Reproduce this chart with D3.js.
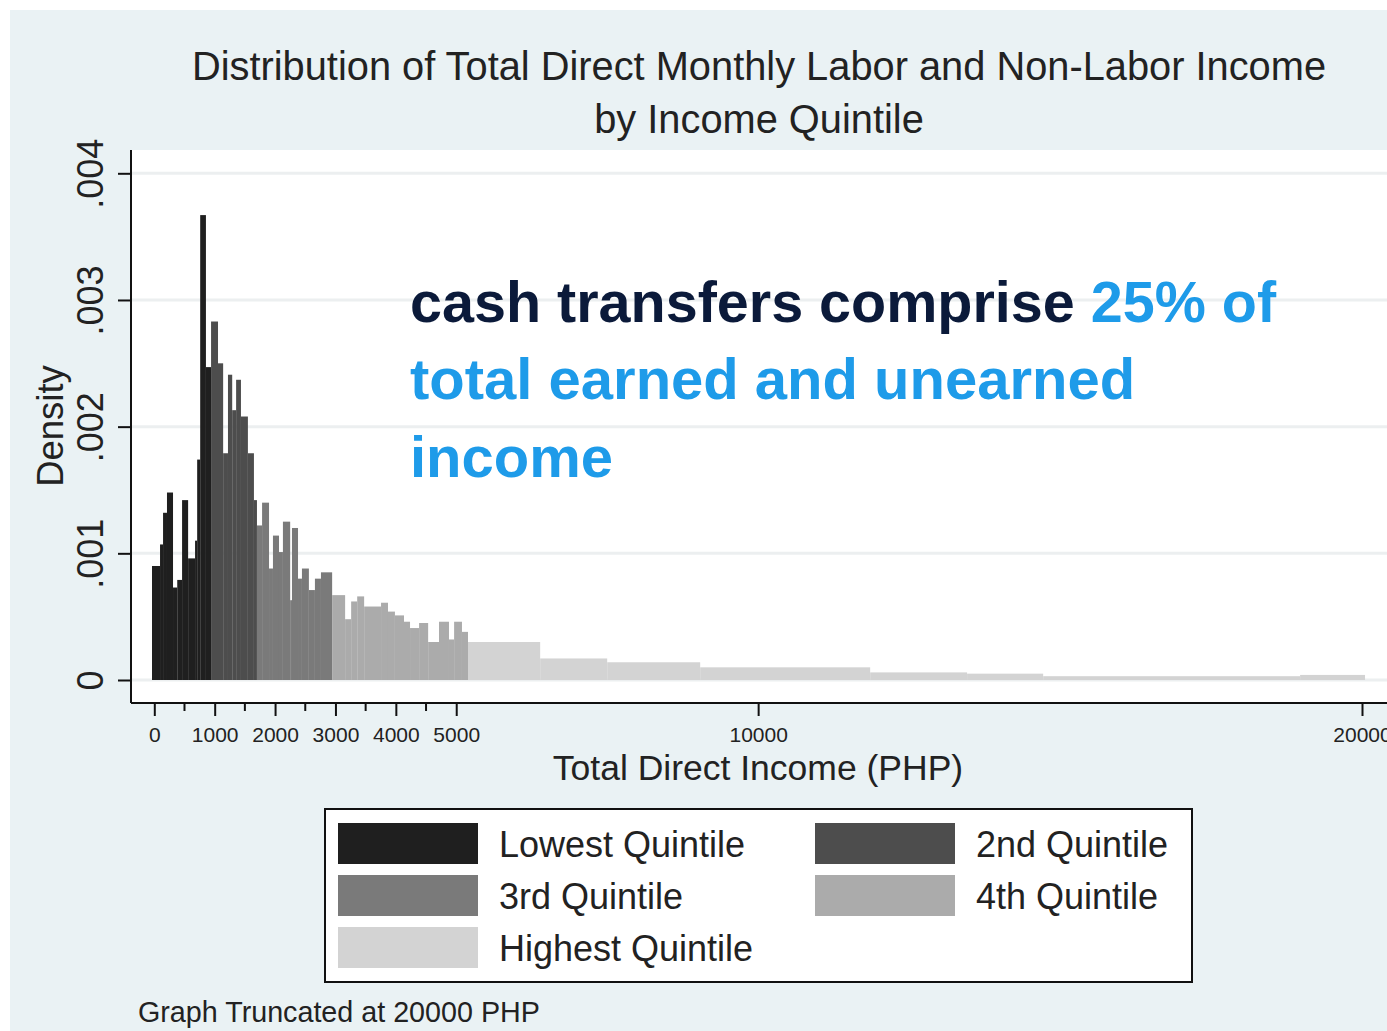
<!DOCTYPE html>
<html>
<head>
<meta charset="utf-8">
<script src="https://cdn.jsdelivr.net/npm/d3@7"></script>
<style>
  body { margin: 0; background: #fff; }
  svg text { font-family: "Liberation Sans", Arial, Helvetica, sans-serif; }
</style>
</head>
<body>
<div id="chart"></div>
<script>
// quintile names (legend order)
const quintiles = ["Lowest Quintile", "2nd Quintile", "3rd Quintile", "4th Quintile", "Highest Quintile"]

// histogram bin edges (PHP) and densities
const lowestEdges = [-38, 95, 145, 210, 310, 380, 460, 560, 675, 710, 760, 855, 940]
const lowestDensity = [.0009, .00107, .00132, .00148, .00073, .00079, .00142, .00096, .0011, .00174, .00367, .00247]

const secondEdges = [940, 1055, 1140, 1220, 1290, 1355, 1435, 1550, 1650, 1700]
const secondDensity = [.00283, .0025, .00179, .00241, .00213, .00237, .00208, .00179, .00142]

const thirdEdges = [1700, 1785, 1900, 1965, 2065, 2130, 2250, 2280, 2380, 2445, 2560, 2660, 2760, 2945]
const thirdDensity = [.00122, .0014, .00088, .00114, .00101, .00125, .00063, .0012, .0008, .00088, .00071, .0008, .00085]

const fourthEdges = [2945, 3160, 3260, 3360, 3475, 3755, 3870, 3985, 4135, 4235, 4385, 4535, 4715, 4880, 4965, 5095, 5195]
const fourthDensity = [.00067, .00048, .00062, .00066, .00058, .00061, .00054, .00051, .00046, .00041, .00045, .0003, .00046, .00032, .00046, .00038]

const highestEdges = [5195, 6390, 7500, 9040, 11855, 13460, 14720, 18975, 20050]
const highestDensity = [.0003, .00017, .00014, .0001, .00006, .00005, .00003, .00004]

const yTicks = [0, .001, .002, .003, .004]
const yTickLabels = ["0", ".001", ".002", ".003", ".004"]
const xMajorTicks = [0, 1000, 2000, 3000, 4000, 5000, 10000, 20000]
const xMinorTicks = [500, 1500, 2500, 3500, 4500]

const W = 1387, H = 1031
const fills = ["#1f1f1f", "#4d4d4d", "#7a7a7a", "#ababab", "#d3d3d3"]
const bgColor = "#eaf2f4"

const svg = d3.select("#chart").append("svg")
    .attr("width", W)
    .attr("height", H)

// graph region
svg.append("rect").attr("x", 10).attr("y", 10).attr("width", W - 10).attr("height", H - 10)
    .style("fill", bgColor)

// plot region
const plot = { left: 131, top: 150, right: W, bottom: 703 }
svg.append("rect")
    .attr("x", plot.left).attr("y", plot.top)
    .attr("width", plot.right - plot.left).attr("height", plot.bottom - plot.top)
    .style("fill", "#fff")

const x = d3.scaleLinear().domain([0, 20000]).range([154.3, 1362])
const y = d3.scaleLinear().domain([0, .004]).range([680, 173.3])

// grid lines
svg.append("g").selectAll("line").data(yTicks).join("line")
    .attr("x1", plot.left).attr("x2", plot.right)
    .attr("y1", d => y(d)).attr("y2", d => y(d))
    .style("stroke", "#eceff0").style("stroke-width", 3)

// bars
const series = [
    [lowestEdges, lowestDensity],
    [secondEdges, secondDensity],
    [thirdEdges, thirdDensity],
    [fourthEdges, fourthDensity],
    [highestEdges, highestDensity]
]
series.forEach(function(s, i) {
    const bars = s[1].map((d, j) => ({ x0: s[0][j], x1: s[0][j + 1], d: d }))
    svg.append("g").selectAll("rect").data(bars).join("rect")
        .attr("x", d => x(d.x0))
        .attr("width", d => x(d.x1) - x(d.x0))
        .attr("y", d => y(d.d))
        .attr("height", d => y(0) - y(d.d))
        .style("fill", fills[i])
})

// y axis
const yAxis = svg.append("g").attr("transform", "translate(" + plot.left + ",0)")
    .call(d3.axisLeft(y).tickValues(yTicks).tickFormat((d, i) => yTickLabels[i]).tickSize(13).tickPadding(0))
yAxis.select(".domain").attr("d", "M0," + plot.top + "V" + plot.bottom)
yAxis.selectAll("path, line").style("stroke", "#111").style("stroke-width", 2)
yAxis.selectAll(".tick text")
    .attr("x", 0).attr("dy", null)
    .attr("transform", "translate(-28,0) rotate(-90)")
    .attr("text-anchor", "middle")
    .style("font-size", "36px").style("fill", "#222")

// x axis
const xAxis = svg.append("g").attr("transform", "translate(0," + plot.bottom + ")")
    .call(d3.axisBottom(x).tickValues(xMajorTicks).tickFormat(d3.format("d")).tickSize(13).tickPadding(11))
xAxis.select(".domain").attr("d", "M" + plot.left + ",0H" + plot.right)
xAxis.selectAll("path, line").style("stroke", "#111").style("stroke-width", 2)
xAxis.selectAll(".tick text").style("font-size", "21px").style("fill", "#222")
svg.append("g").attr("transform", "translate(0," + plot.bottom + ")")
    .selectAll("line").data(xMinorTicks).join("line")
    .attr("x1", d => x(d)).attr("x2", d => x(d))
    .attr("y1", 0).attr("y2", 8)
    .style("stroke", "#111").style("stroke-width", 2)

// axis titles
svg.append("text").attr("x", 758).attr("y", 780)
    .attr("text-anchor", "middle").style("font-size", "35.5px").style("fill", "#222")
    .text("Total Direct Income (PHP)")
svg.append("text").attr("transform", "translate(63,426) rotate(-90)")
    .attr("text-anchor", "middle").style("font-size", "36.5px").style("fill", "#222")
    .text("Density")

// title
svg.append("text").attr("x", 759).attr("y", 80)
    .attr("text-anchor", "middle").style("font-size", "39.8px").style("fill", "#222")
    .text("Distribution of Total Direct Monthly Labor and Non-Labor Income")
svg.append("text").attr("x", 759).attr("y", 133)
    .attr("text-anchor", "middle").style("font-size", "39.8px").style("fill", "#222")
    .text("by Income Quintile")

// annotation
const note = svg.append("text").attr("x", 410).attr("y", 322)
    .style("font-size", "57.5px").style("font-weight", "bold")
note.append("tspan").style("fill", "#0b1a3a").text("cash transfers comprise ")
note.append("tspan").style("fill", "#1e9be9").text("25% of")
svg.append("text").attr("x", 410).attr("y", 399)
    .style("font-size", "58px").style("font-weight", "bold").style("fill", "#1e9be9")
    .text("total earned and unearned")
svg.append("text").attr("x", 410).attr("y", 477)
    .style("font-size", "58px").style("font-weight", "bold").style("fill", "#1e9be9")
    .text("income")

// legend
const legend = svg.append("g")
legend.append("rect").attr("x", 325).attr("y", 809).attr("width", 867).attr("height", 173)
    .style("fill", "#fff").style("stroke", "#111").style("stroke-width", 2)
const items = legend.selectAll("g.item").data(quintiles).join("g")
    .attr("class", "item")
    .attr("transform", (d, i) => "translate(" + (i % 2 ? 815 : 338) + "," + (823 + Math.floor(i / 2) * 52) + ")")
items.append("rect").attr("width", 140).attr("height", 41)
    .style("fill", (d, i) => fills[i])
items.append("text").attr("x", 161).attr("y", 34)
    .style("font-size", "36px").style("fill", "#222")
    .text(d => d)

// footnote
svg.append("text").attr("x", 138).attr("y", 1022)
    .style("font-size", "28.7px").style("fill", "#222")
    .text("Graph Truncated at 20000 PHP")
</script>
</body>
</html>
